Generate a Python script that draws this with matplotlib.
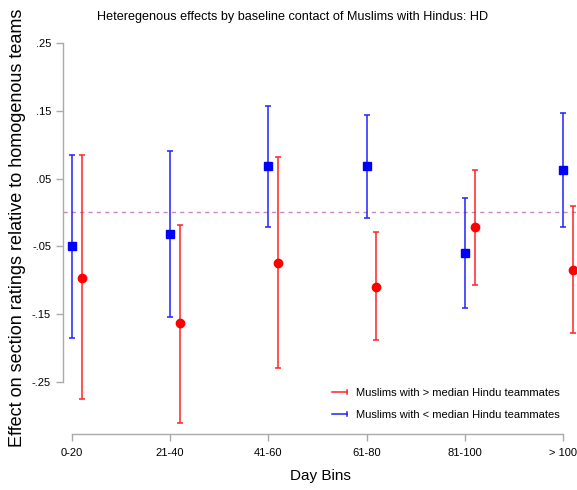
import numpy as np
import matplotlib.pyplot as plt
from matplotlib.lines import Line2D
from matplotlib.legend_handler import HandlerBase

plt.rcParams['font.family'] = ['Liberation Sans', 'DejaVu Sans']

bins = ["0-20", "21-40", "41-60", "61-80", "81-100", "> 100"]

# below-median contact group (blue squares)
lo_est = [-0.050, -0.032, 0.068, 0.068, -0.059, 0.063]
lo_ci_low = [-0.185, -0.154, -0.021, -0.008, -0.140, -0.021]
lo_ci_high = [0.085, 0.090, 0.157, 0.143, 0.022, 0.147]

# above-median contact group (red circles)
hi_est = [-0.096, -0.163, -0.074, -0.109, -0.022, -0.085]
hi_ci_low = [-0.275, -0.310, -0.229, -0.188, -0.106, -0.178]
hi_ci_high = [0.084, -0.018, 0.082, -0.029, 0.063, 0.009]

x = np.arange(len(bins))
lo_est = np.array(lo_est)
hi_est = np.array(hi_est)
lo_err = [lo_est - np.array(lo_ci_low), np.array(lo_ci_high) - lo_est]
hi_err = [hi_est - np.array(hi_ci_low), np.array(hi_ci_high) - hi_est]


# legend key: horizontal bar with a cap on the right end
class CapBar(HandlerBase):
    def create_artists(self, legend, orig, xd, yd, width, height, fontsize, trans):
        c = orig.get_color()
        y = yd + height / 2
        h = height * 0.3
        parts = [
            Line2D([xd, xd + width], [y, y], color=c, lw=1.1),
            Line2D([xd + width, xd + width], [y - h, y + h], color=c, lw=1.1),
        ]
        for p in parts:
            p.set_transform(trans)
        return parts


fig = plt.figure(figsize=(5.77, 4.90), dpi=100)
ax = fig.add_axes([0.109, 0.1143, 0.891, 0.814])

ax.axhline(0, color='#cc88bb', linestyle=(0, (3, 3)), linewidth=1)

ax.errorbar(x + 0.1, hi_est, yerr=hi_err, fmt='o', color='#ff0000', ecolor='#ff2222',
            ms=6, elinewidth=1.1, capsize=2.5, capthick=1.1)
ax.errorbar(x, lo_est, yerr=lo_err, fmt='s', color='#0000ff', ecolor='#2222ff',
            ms=6, elinewidth=1.1, capsize=2.5, capthick=1.1)

ax.set_xlim(-0.092, 5.143)
ax.set_ylim(-0.326, 0.261)

for s in ['top', 'right']:
    ax.spines[s].set_visible(False)
for s in ['left', 'bottom']:
    ax.spines[s].set_color('#aaaaaa')
    ax.spines[s].set_linewidth(1)
ax.spines['left'].set_bounds(-0.25, 0.25)
ax.spines['bottom'].set_bounds(0, 5)

ax.set_yticks([0.25, 0.15, 0.05, -0.05, -0.15, -0.25])
ax.set_yticklabels(['.25', '.15', '.05', '-.05', '-.15', '-.25'])
ax.set_xticks(x)
ax.set_xticklabels(bins)
ax.tick_params(axis='both', colors='#aaaaaa', labelcolor='black', labelsize=8, length=5, width=1)
ax.tick_params(axis='x', pad=5)

ax.set_xlabel('Day Bins', fontsize=11, labelpad=8)
fig.text(0.03, 0.535, 'Effect on section ratings relative to homogenous teams',
         rotation=90, ha='center', va='center', fontsize=13)
fig.text(0.507, 0.965, 'Heteregenous effects by baseline contact of Muslims with Hindus: HD',
         ha='center', va='center', fontsize=9.1)

proxies = [Line2D([], [], color='#ff2222'), Line2D([], [], color='#2222ff')]
labels = ['Muslims with > median Hindu teammates', 'Muslims with < median Hindu teammates']
ax.legend(proxies, labels, loc='lower right', bbox_to_anchor=(0.985, 0.01), frameon=False,
          fontsize=8, handlelength=1.3, handletextpad=0.8, labelspacing=1.1,
          handler_map={Line2D: CapBar()})

fig.savefig('out.png', dpi=100)
